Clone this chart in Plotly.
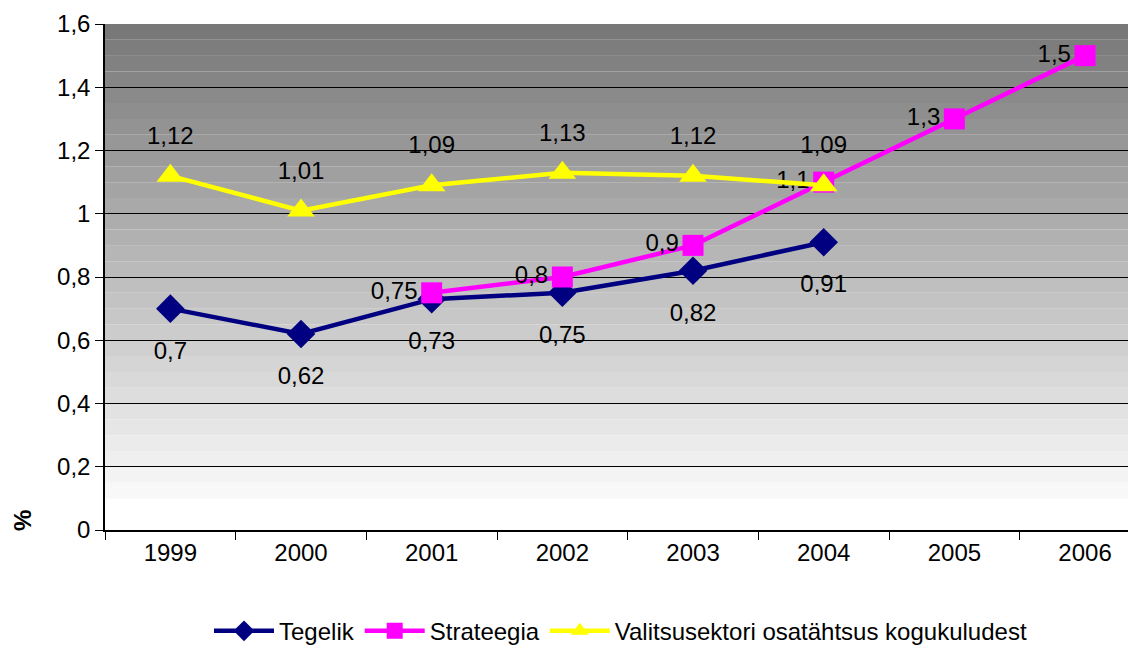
import plotly.graph_objects as go

years = ["1999", "2000", "2001", "2002", "2003", "2004", "2005", "2006"]
tegelik = [0.7, 0.62, 0.73, 0.75, 0.82, 0.91, None, None]
strateegia = [None, None, 0.75, 0.8, 0.9, 1.1, 1.3, 1.5]
valitsus = [1.12, 1.01, 1.09, 1.13, 1.12, 1.09, None, None]
y_ticks = [0, 0.2, 0.4, 0.6, 0.8, 1.0, 1.2, 1.4, 1.6]

FONT = "Liberation Sans, Arial, sans-serif"
FS = 24


def lab(vals):
    return ["" if v is None else str(v).replace(".", ",") for v in vals]


fig = go.Figure()
fig.add_trace(go.Scatter(
    x=years, y=tegelik, name="Tegelik", mode="lines+markers",
    line=dict(color="#000080", width=4.5),
    marker=dict(symbol="diamond", size=22, color="#000080"),
))
fig.add_trace(go.Scatter(
    x=years, y=strateegia, name="Strateegia", mode="lines+markers+text",
    line=dict(color="#FF00FF", width=4.5),
    marker=dict(symbol="square", size=21, color="#FF00FF"),
    text=lab(strateegia), textposition="middle left",
    textfont=dict(size=FS, color="black", family=FONT),
))
fig.add_trace(go.Scatter(
    x=years, y=valitsus, name="Valitsusektori osatähtsus kogukuludest",
    mode="lines+markers",
    line=dict(color="#FFFF00", width=4.5),
    marker=dict(symbol="triangle-up", size=24, color="#FFFF00"),
))
# data labels (offset via invisible spacer markers)
fig.add_trace(go.Scatter(
    x=years, y=tegelik, mode="markers+text", showlegend=False,
    hoverinfo="skip", marker=dict(size=50, opacity=0),
    text=lab(tegelik), textposition="bottom center",
    textfont=dict(size=FS, color="black", family=FONT),
))
fig.add_trace(go.Scatter(
    x=years, y=valitsus, mode="markers+text", showlegend=False,
    hoverinfo="skip", marker=dict(size=40, opacity=0),
    text=lab(valitsus), textposition="top center",
    textfont=dict(size=FS, color="black", family=FONT),
))

# banded gray gradient background
shapes = []
n = 32
step = 1.6 / n
for i in range(n):
    y0 = i * step
    y1 = y0 + step
    mid = (y0 + y1) / 2
    if y1 <= 0.1:
        g = 255
    else:
        g = int(round(250 - (mid - 0.1) / 1.5 * 132))
    shapes.append(dict(type="rect", xref="paper", yref="y", x0=0, x1=1,
                       y0=y0, y1=y1, fillcolor=f"rgb({g},{g},{g})",
                       line=dict(width=0), layer="below"))

fig.update_layout(
    width=1128, height=637,
    margin=dict(l=97, r=0, t=16, b=115, autoexpand=False),
    paper_bgcolor="white", plot_bgcolor="white",
    separators=", ",
    font=dict(family=FONT, size=FS, color="black"),
    shapes=shapes,
    showlegend=True,
    legend=dict(orientation="h", x=0.5, xanchor="center", y=-0.2,
                yanchor="middle", font=dict(size=24), itemwidth=60,
                tracegroupgap=0),
    xaxis=dict(type="category", range=[-0.5, 7.39], showgrid=False,
               showline=True, linecolor="black", linewidth=1.5,
               ticks="outside", tickson="boundaries", ticklen=8,
               tickcolor="black", tickfont=dict(size=FS), automargin=False),
    yaxis=dict(range=[0, 1.6], tickvals=y_ticks, showgrid=True,
               gridcolor="black", gridwidth=1, zeroline=False,
               showline=True, linecolor="black", linewidth=1.5,
               ticks="outside", ticklen=8, tickcolor="black",
               tickfont=dict(size=FS), automargin=False),
    annotations=[dict(text="<b>%</b>", xref="paper", yref="paper",
                      x=-0.095, y=-0.006, showarrow=False, textangle=-90,
                      font=dict(size=24, color="black"))],
)

fig.write_html("out.html")
